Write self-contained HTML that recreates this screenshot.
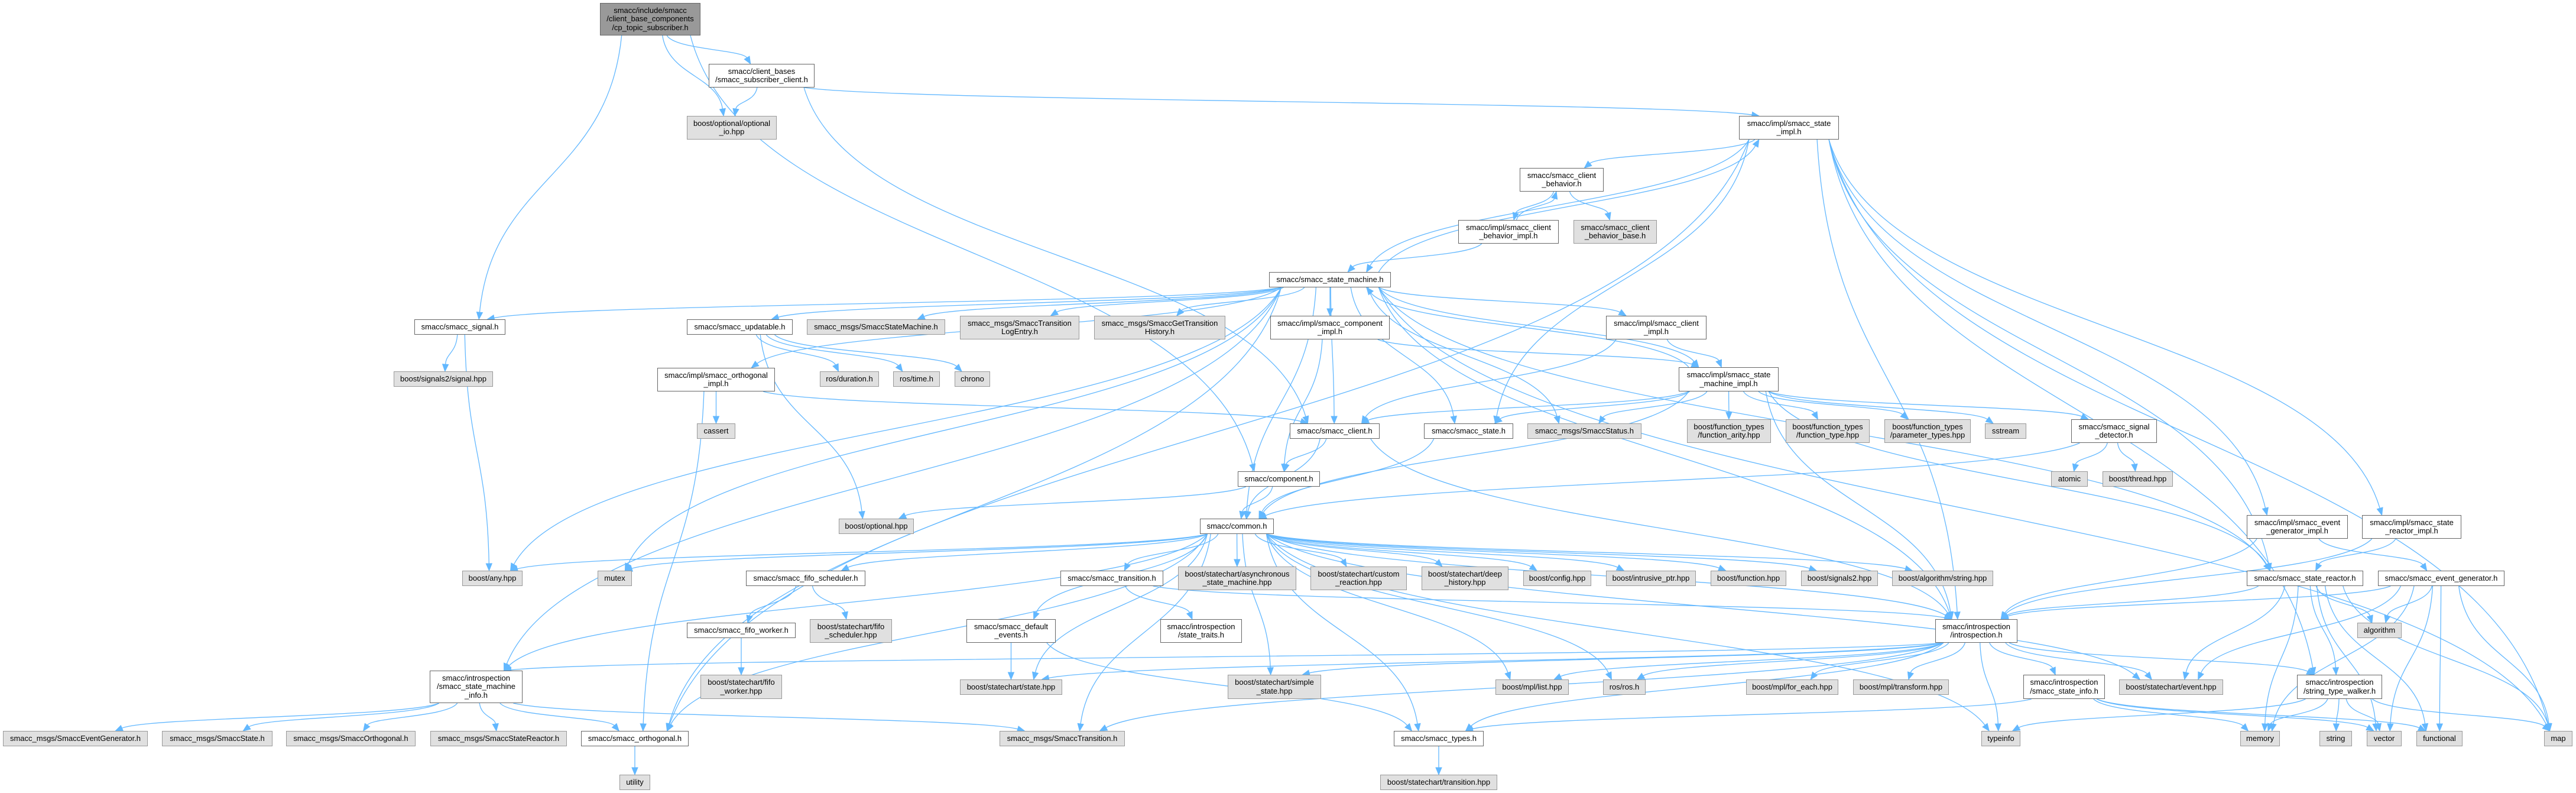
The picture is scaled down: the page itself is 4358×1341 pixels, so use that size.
<!DOCTYPE html>
<html><head><meta charset="utf-8">
<style>
html,body{margin:0;padding:0;background:#fff;}
#c{position:relative;width:4358px;height:1341px;overflow:hidden;background:#fff;}
svg{position:absolute;left:0;top:0;}
.n{position:absolute;box-sizing:border-box;border:1px solid #666;background:#fff;display:flex;align-items:center;justify-content:center;text-align:center;font-family:"Liberation Sans",Arial,sans-serif;font-size:13px;line-height:14.5px;color:#000;white-space:nowrap;}
.g{background:#e0e0e0;border-color:#999;}
.d{background:#999;border-color:#666;}
</style></head><body>
<div id="c">
<svg id="s" width="4358" height="1341"></svg>
<div class="n d" id="root" style="left:1015px;top:5px;width:170px;height:55px">smacc/include/smacc<br>/client_base_components<br>/cp_topic_subscriber.h</div>
<div class="n" id="subc" style="left:1199px;top:108px;width:179px;height:40px">smacc/client_bases<br>/smacc_subscriber_client.h</div>
<div class="n g" id="optio" style="left:1162px;top:196px;width:152px;height:40px">boost/optional/optional<br>_io.hpp</div>
<div class="n" id="simpl" style="left:2942px;top:196px;width:169px;height:40px">smacc/impl/smacc_state<br>_impl.h</div>
<div class="n" id="cbeh" style="left:2571px;top:284px;width:142px;height:40px">smacc/smacc_client<br>_behavior.h</div>
<div class="n" id="cbehi" style="left:2467px;top:372px;width:170px;height:40px">smacc/impl/smacc_client<br>_behavior_impl.h</div>
<div class="n g" id="cbehb" style="left:2662px;top:372px;width:141px;height:40px">smacc/smacc_client<br>_behavior_base.h</div>
<div class="n" id="sm" style="left:2147px;top:460px;width:206px;height:26px">smacc/smacc_state_machine.h</div>
<div class="n" id="sig" style="left:701px;top:540px;width:154px;height:26px">smacc/smacc_signal.h</div>
<div class="n" id="upd" style="left:1162px;top:540px;width:179px;height:26px">smacc/smacc_updatable.h</div>
<div class="n g" id="ssm" style="left:1365px;top:540px;width:234px;height:26px">smacc_msgs/SmaccStateMachine.h</div>
<div class="n g" id="tle" style="left:1624px;top:534px;width:202px;height:40px">smacc_msgs/SmaccTransition<br>LogEntry.h</div>
<div class="n g" id="gth" style="left:1851px;top:534px;width:222px;height:40px">smacc_msgs/SmaccGetTransition<br>History.h</div>
<div class="n" id="compi" style="left:2149px;top:534px;width:202px;height:40px">smacc/impl/smacc_component<br>_impl.h</div>
<div class="n" id="clii" style="left:2717px;top:534px;width:170px;height:40px">smacc/impl/smacc_client<br>_impl.h</div>
<div class="n g" id="s2sig" style="left:666px;top:628px;width:168px;height:26px">boost/signals2/signal.hpp</div>
<div class="n" id="orthi" style="left:1112px;top:622px;width:199px;height:40px">smacc/impl/smacc_orthogonal<br>_impl.h</div>
<div class="n g" id="rdur" style="left:1387px;top:628px;width:100px;height:26px">ros/duration.h</div>
<div class="n g" id="rtime" style="left:1511px;top:628px;width:79px;height:26px">ros/time.h</div>
<div class="n g" id="chrono" style="left:1615px;top:628px;width:60px;height:26px">chrono</div>
<div class="n" id="smi" style="left:2840px;top:621px;width:169px;height:41px">smacc/impl/smacc_state<br>_machine_impl.h</div>
<div class="n g" id="cassert" style="left:1179px;top:716px;width:65px;height:26px">cassert</div>
<div class="n" id="cli" style="left:2182px;top:716px;width:152px;height:26px">smacc/smacc_client.h</div>
<div class="n" id="st" style="left:2409px;top:716px;width:151px;height:26px">smacc/smacc_state.h</div>
<div class="n g" id="sstat" style="left:2584px;top:716px;width:193px;height:26px">smacc_msgs/SmaccStatus.h</div>
<div class="n g" id="farity" style="left:2854px;top:709px;width:142px;height:40px">boost/function_types<br>/function_arity.hpp</div>
<div class="n g" id="ftype" style="left:3021px;top:709px;width:142px;height:40px">boost/function_types<br>/function_type.hpp</div>
<div class="n g" id="ptypes" style="left:3188px;top:709px;width:146px;height:40px">boost/function_types<br>/parameter_types.hpp</div>
<div class="n g" id="sstream" style="left:3358px;top:716px;width:70px;height:26px">sstream</div>
<div class="n" id="sdet" style="left:3504px;top:709px;width:145px;height:40px">smacc/smacc_signal<br>_detector.h</div>
<div class="n g" id="atomic" style="left:3470px;top:797px;width:62px;height:26px">atomic</div>
<div class="n g" id="bthread" style="left:3557px;top:797px;width:119px;height:26px">boost/thread.hpp</div>
<div class="n" id="comp" style="left:2094px;top:797px;width:139px;height:26px">smacc/component.h</div>
<div class="n g" id="bopt" style="left:1419px;top:877px;width:127px;height:26px">boost/optional.hpp</div>
<div class="n" id="common" style="left:2030px;top:877px;width:125px;height:26px">smacc/common.h</div>
<div class="n" id="egi" style="left:3801px;top:871px;width:171px;height:40px">smacc/impl/smacc_event<br>_generator_impl.h</div>
<div class="n" id="sri" style="left:3996px;top:871px;width:168px;height:40px">smacc/impl/smacc_state<br>_reactor_impl.h</div>
<div class="n g" id="any" style="left:782px;top:965px;width:102px;height:26px">boost/any.hpp</div>
<div class="n g" id="mutex" style="left:1011px;top:965px;width:58px;height:26px">mutex</div>
<div class="n" id="fifos" style="left:1262px;top:965px;width:202px;height:26px">smacc/smacc_fifo_scheduler.h</div>
<div class="n" id="trans" style="left:1794px;top:965px;width:174px;height:26px">smacc/smacc_transition.h</div>
<div class="n g" id="async" style="left:1993px;top:958px;width:200px;height:40px">boost/statechart/asynchronous<br>_state_machine.hpp</div>
<div class="n g" id="custom" style="left:2217px;top:958px;width:163px;height:40px">boost/statechart/custom<br>_reaction.hpp</div>
<div class="n g" id="deep" style="left:2405px;top:958px;width:147px;height:40px">boost/statechart/deep<br>_history.hpp</div>
<div class="n g" id="config" style="left:2577px;top:965px;width:115px;height:26px">boost/config.hpp</div>
<div class="n g" id="intr" style="left:2717px;top:965px;width:152px;height:26px">boost/intrusive_ptr.hpp</div>
<div class="n g" id="func" style="left:2894px;top:965px;width:128px;height:26px">boost/function.hpp</div>
<div class="n g" id="sig2" style="left:3047px;top:965px;width:130px;height:26px">boost/signals2.hpp</div>
<div class="n g" id="algs" style="left:3201px;top:965px;width:171px;height:26px">boost/algorithm/string.hpp</div>
<div class="n" id="sr" style="left:3801px;top:965px;width:197px;height:26px">smacc/smacc_state_reactor.h</div>
<div class="n" id="eg" style="left:4023px;top:965px;width:214px;height:26px">smacc/smacc_event_generator.h</div>
<div class="n" id="fifow" style="left:1162px;top:1053px;width:184px;height:26px">smacc/smacc_fifo_worker.h</div>
<div class="n g" id="fifosh" style="left:1370px;top:1047px;width:139px;height:40px">boost/statechart/fifo<br>_scheduler.hpp</div>
<div class="n" id="defev" style="left:1635px;top:1047px;width:151px;height:40px">smacc/smacc_default<br>_events.h</div>
<div class="n" id="stt" style="left:1963px;top:1047px;width:138px;height:40px">smacc/introspection<br>/state_traits.h</div>
<div class="n" id="intro" style="left:3274px;top:1047px;width:139px;height:40px">smacc/introspection<br>/introspection.h</div>
<div class="n g" id="algo" style="left:3988px;top:1053px;width:75px;height:26px">algorithm</div>
<div class="n" id="smiinfo" style="left:727px;top:1134px;width:157px;height:55px">smacc/introspection<br>/smacc_state_machine<br>_info.h</div>
<div class="n g" id="fifowh" style="left:1185px;top:1141px;width:138px;height:41px">boost/statechart/fifo<br>_worker.hpp</div>
<div class="n g" id="statehpp" style="left:1624px;top:1149px;width:173px;height:26px">boost/statechart/state.hpp</div>
<div class="n g" id="simple" style="left:2077px;top:1141px;width:158px;height:41px">boost/statechart/simple<br>_state.hpp</div>
<div class="n g" id="mpllist" style="left:2530px;top:1149px;width:124px;height:26px">boost/mpl/list.hpp</div>
<div class="n g" id="ros" style="left:2712px;top:1149px;width:72px;height:26px">ros/ros.h</div>
<div class="n g" id="foreach" style="left:2954px;top:1149px;width:156px;height:26px">boost/mpl/for_each.hpp</div>
<div class="n g" id="transform" style="left:3135px;top:1149px;width:162px;height:26px">boost/mpl/transform.hpp</div>
<div class="n" id="sinfo" style="left:3423px;top:1141px;width:138px;height:41px">smacc/introspection<br>/smacc_state_info.h</div>
<div class="n g" id="event" style="left:3585px;top:1149px;width:176px;height:26px">boost/statechart/event.hpp</div>
<div class="n" id="stw" style="left:3886px;top:1141px;width:144px;height:41px">smacc/introspection<br>/string_type_walker.h</div>
<div class="n g" id="mEG" style="left:5px;top:1236px;width:245px;height:26px">smacc_msgs/SmaccEventGenerator.h</div>
<div class="n g" id="mSt" style="left:274px;top:1236px;width:187px;height:26px">smacc_msgs/SmaccState.h</div>
<div class="n g" id="mOr" style="left:484px;top:1236px;width:219px;height:26px">smacc_msgs/SmaccOrthogonal.h</div>
<div class="n g" id="mSR" style="left:728px;top:1236px;width:231px;height:26px">smacc_msgs/SmaccStateReactor.h</div>
<div class="n" id="orth" style="left:983px;top:1236px;width:182px;height:26px">smacc/smacc_orthogonal.h</div>
<div class="n g" id="mTr" style="left:1691px;top:1236px;width:212px;height:26px">smacc_msgs/SmaccTransition.h</div>
<div class="n" id="types" style="left:2358px;top:1236px;width:152px;height:26px">smacc/smacc_types.h</div>
<div class="n g" id="typeinfo" style="left:3352px;top:1236px;width:66px;height:26px">typeinfo</div>
<div class="n g" id="memory" style="left:3790px;top:1236px;width:67px;height:26px">memory</div>
<div class="n g" id="string" style="left:3924px;top:1236px;width:55px;height:26px">string</div>
<div class="n g" id="vector" style="left:4004px;top:1236px;width:59px;height:26px">vector</div>
<div class="n g" id="functional" style="left:4088px;top:1236px;width:78px;height:26px">functional</div>
<div class="n g" id="map" style="left:4304px;top:1236px;width:48px;height:26px">map</div>
<div class="n g" id="utility" style="left:1048px;top:1310px;width:52px;height:26px">utility</div>
<div class="n g" id="transhpp" style="left:2335px;top:1310px;width:198px;height:26px">boost/statechart/transition.hpp</div>
</div>
<script>
(function(){
var E={
root:"sig comp optio subc",
subc:"optio simpl cli",
simpl:"cbeh sm orth st intro sr egi sri stw map",
sm:"simpl sig upd ssm tle gth compi clii smiinfo any mutex orthi common cli st sstat sr map orth smi intro",
cbeh:"cbehi cbehb",
cbehi:"cbeh sm",
upd:"rdur rtime chrono bopt",
sig:"s2sig any",
orthi:"cassert orth cli",
compi:"comp smi",
clii:"cli smi",
smi:"sm cli st sstat farity ftype ptypes sstream sdet sr intro common",
cli:"comp common intro",
st:"common",
comp:"common bopt",
sdet:"atomic bthread common",
common:"any mutex fifos trans async custom deep config intr func sig2 algs defev statehpp simple mpllist ros types mTr intro event smiinfo orth typeinfo",
fifos:"fifow fifosh",
fifow:"fifowh",
trans:"stt intro",
defev:"statehpp types",
intro:"smiinfo statehpp simple mpllist ros foreach transform typeinfo sinfo event stw types mTr",
sinfo:"memory vector functional types",
stw:"typeinfo memory string vector map",
sr:"intro algo memory vector functional map event stw",
eg:"intro algo memory vector functional map event",
egi:"intro eg",
sri:"intro sr",
smiinfo:"mEG mSt mOr mSR orth mTr",
orth:"utility",
types:"transhpp"
};
function box(id){var e=document.getElementById(id);var s=e.style;var x=parseFloat(s.left),y=parseFloat(s.top),w=parseFloat(s.width),h=parseFloat(s.height);return {x1:x,y1:y,x2:x+w,y2:y+h,cx:x+w/2,cy:y+h/2,w:w,h:h};}
var out=[],col="#63b8ff";
function clamp(v,a,b){return Math.max(a,Math.min(b,v));}
for(var s in E){var S=box(s);E[s].split(" ").forEach(function(t){
 var T=box(t),x1,y1,x2,y2,c1x,c1y,c2x,c2y;
 if(T.y1>=S.y2-2){
  x1=S.cx+clamp((T.cx-S.cx)*0.15,-S.w*0.4,S.w*0.4);y1=S.y2;
  x2=T.cx+clamp((S.cx-T.cx)*0.1,-T.w*0.3,T.w*0.3);y2=T.y1;
  var dy=y2-y1;c1x=x1+(x2-x1)*0.1;c1y=y1+dy*0.5;c2x=x2-(x2-x1)*0.1;c2y=y2-dy*0.5;
 }else if(T.y2<=S.y1+2){
  x1=S.cx+clamp((T.cx-S.cx)*0.15,-S.w*0.4,S.w*0.4);y1=S.y1;
  x2=T.cx+clamp((S.cx-T.cx)*0.1,-T.w*0.3,T.w*0.3);y2=T.y2;
  var dy=y2-y1;c1x=x1+(x2-x1)*0.1;c1y=y1+dy*0.5;c2x=x2-(x2-x1)*0.1;c2y=y2-dy*0.5;
 }else{
  if(T.cx>S.cx){x1=S.x2;x2=T.x1;}else{x1=S.x1;x2=T.x2;}
  y1=S.cy;y2=T.cy;c1x=(x1+x2)/2;c1y=y1;c2x=(x1+x2)/2;c2y=y2;
 }
 var dx=x2-c2x,ddy=y2-c2y,L=Math.sqrt(dx*dx+ddy*ddy)||1;dx/=L;ddy/=L;
 var bx=x2-dx*12,by=y2-ddy*12;
 out.push('<path d="M'+x1.toFixed(1)+','+y1.toFixed(1)+' C'+c1x.toFixed(1)+','+c1y.toFixed(1)+' '+c2x.toFixed(1)+','+c2y.toFixed(1)+' '+bx.toFixed(1)+','+by.toFixed(1)+'" fill="none" stroke="'+col+'" stroke-width="1.3"/>');
 out.push('<polygon points="'+x2.toFixed(1)+','+y2.toFixed(1)+' '+(bx-ddy*5).toFixed(1)+','+(by+dx*5).toFixed(1)+' '+(bx+ddy*5).toFixed(1)+','+(by-dx*5).toFixed(1)+'" fill="'+col+'" stroke="'+col+'"/>');
});}
document.getElementById("s").innerHTML=out.join("");
})();
</script>
</body></html>
